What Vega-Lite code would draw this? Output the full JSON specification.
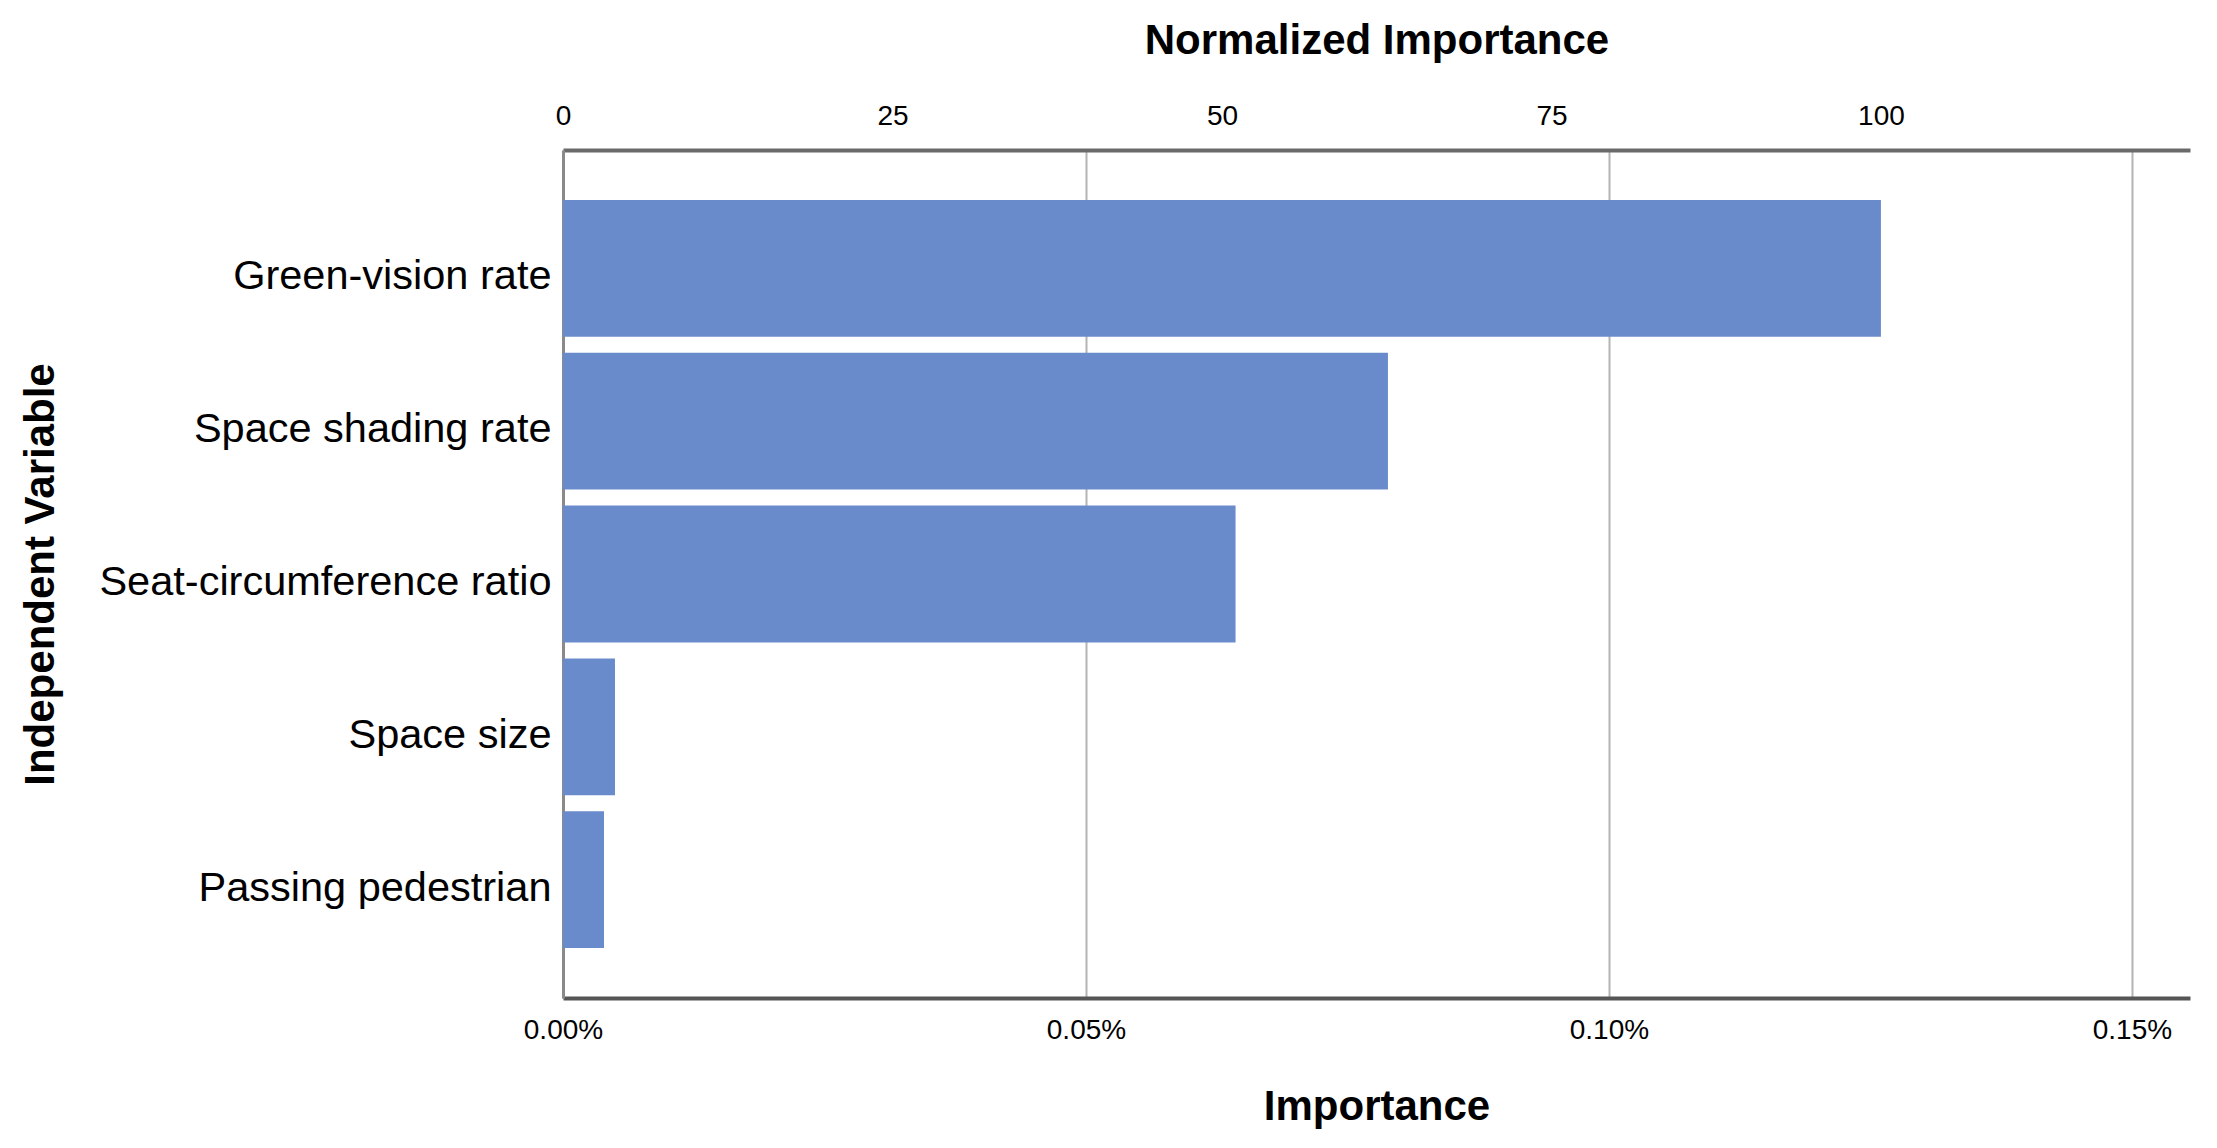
{
  "$schema": "https://vega.github.io/schema/vega-lite/v6.json",
  "autosize": "none",
  "width": 1627,
  "height": 848,
  "padding": {"left": 563, "top": 150, "right": 27, "bottom": 150},
  "background": "white",
  "config": {
    "view": {"stroke": null},
    "font": "Liberation Sans"
  },
  "data": {
    "values": [
      {"variable": "Green-vision rate", "importance": 0.001260, "normalized": 100},
      {"variable": "Space shading rate", "importance": 0.0007887, "normalized": 62.6},
      {"variable": "Seat-circumference ratio", "importance": 0.0006430, "normalized": 51.0},
      {"variable": "Space size", "importance": 0.0000497, "normalized": 3.9},
      {"variable": "Passing pedestrian", "importance": 0.0000392, "normalized": 3.1}
    ]
  },
  "encoding": {
    "y": {
      "field": "variable",
      "type": "nominal",
      "sort": null,
      "scale": {"paddingInner": 0.105, "paddingOuter": 0.327},
      "axis": {
        "title": "Independent Variable",
        "titleFont": "Liberation Sans",
        "titleFontSize": 42,
        "titleFontWeight": "bold",
        "titleColor": "black",
        "titleX": -523,
        "titleY": 424,
        "titleAlign": "center",
        "titleBaseline": "middle",
        "titleAngle": -90,
        "labelFont": "Liberation Sans",
        "labelFontSize": 41.5,
        "labelColor": "black",
        "labelPadding": 12,
        "labelOffset": 9,
        "labelLimit": 1000,
        "ticks": false,
        "domain": true,
        "domainColor": "#8a8a8a",
        "domainWidth": 3
      }
    }
  },
  "layer": [
    {
      "mark": {"type": "bar", "color": "#6a8bcb"},
      "encoding": {
        "x": {
          "field": "importance",
          "type": "quantitative",
          "scale": {"domain": [0, 0.0015555], "nice": false, "zero": true},
          "axis": {
            "orient": "bottom",
            "title": "Importance",
            "titleFont": "Liberation Sans",
            "titleFontSize": 42,
            "titleFontWeight": "bold",
            "titleColor": "black",
            "titlePadding": 42,
            "format": ".2%",
            "values": [0, 0.0005, 0.001, 0.0015],
            "labelFont": "Liberation Sans",
            "labelFontSize": 28,
            "labelColor": "black",
            "labelPadding": 18,
            "labelFlush": false,
            "ticks": false,
            "grid": true,
            "gridColor": "#b4b4b4",
            "gridWidth": 2,
            "domainColor": "#555555",
            "domainWidth": 4
          }
        }
      }
    },
    {
      "mark": {"type": "bar", "opacity": 0},
      "encoding": {
        "x": {
          "field": "normalized",
          "type": "quantitative",
          "scale": {"domain": [0, 123.45], "nice": false, "zero": true},
          "axis": {
            "orient": "top",
            "title": "Normalized Importance",
            "titleFont": "Liberation Sans",
            "titleFontSize": 42,
            "titleFontWeight": "bold",
            "titleColor": "black",
            "titlePadding": 40,
            "values": [0, 25, 50, 75, 100],
            "labelFont": "Liberation Sans",
            "labelFontSize": 28,
            "labelColor": "black",
            "labelPadding": 20,
            "labelFlush": false,
            "ticks": false,
            "grid": false,
            "domainColor": "#6a6a6a",
            "domainWidth": 4
          }
        }
      }
    }
  ],
  "resolve": {"scale": {"x": "independent"}}
}
